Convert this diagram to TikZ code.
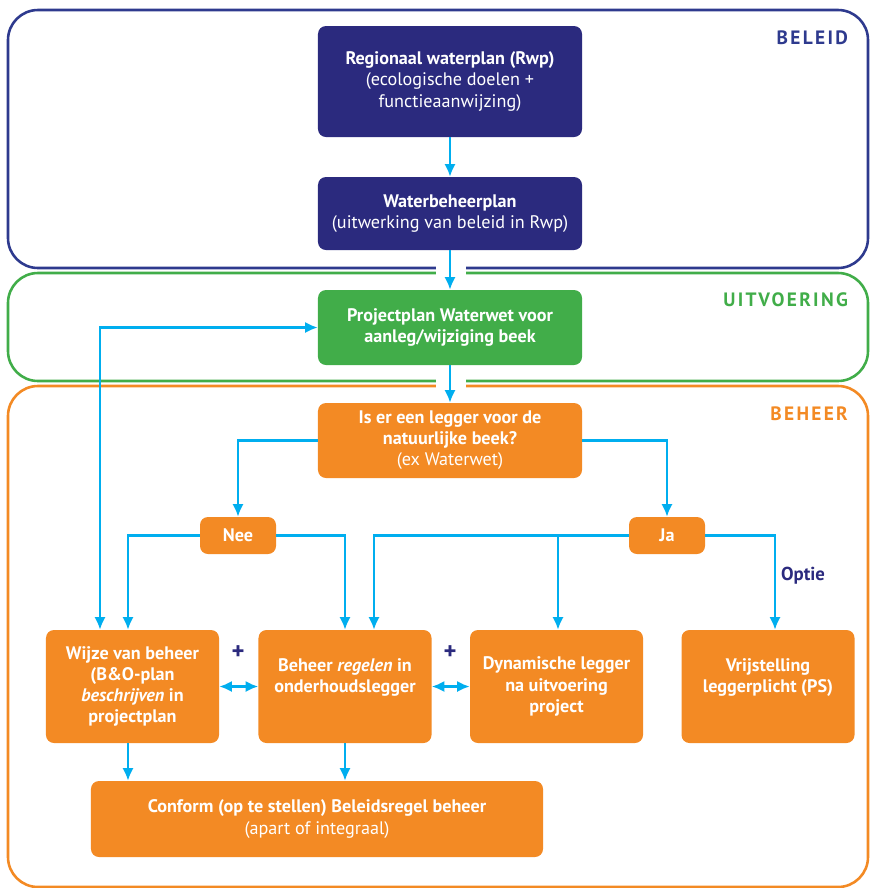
\documentclass[tikz,border=0pt]{standalone}
\usepackage{fontspec}
\setmainfont{PT Sans}
\usetikzlibrary{arrows.meta,calc}
\definecolor{navy}{HTML}{2B2A7E}
\definecolor{frameblue}{HTML}{2E3A8E}
\definecolor{leafgreen}{HTML}{41AD49}
\definecolor{frameorange}{HTML}{F38A24}
\definecolor{flowcyan}{HTML}{00AEEF}

\begin{document}
\begin{tikzpicture}[x=0.03cm, y=-0.03cm,
  frame/.style={line width=2.2pt, rounded corners=0.9cm},
  title/.style={anchor=east, font=\fontsize{16.5}{18}\selectfont\bfseries\addfontfeature{LetterSpace=12}},
  blok/.style={rounded corners=0.24cm, minimum width=7.92cm, align=center, text=white, inner sep=2pt, font=\fontsize{15.5}{18}\selectfont},
  keuze/.style={blok, fill=frameorange, minimum width=2.28cm, minimum height=1.11cm, font=\fontsize{15.5}{18}\selectfont\bfseries},
  stap/.style={blok, fill=frameorange, minimum width=5.19cm, minimum height=3.39cm, font=\fontsize{15.5}{18}\selectfont\bfseries},
  arr/.style={flowcyan, line width=2.4pt, -{Latex[length=3.8mm, width=3.4mm]}},
  arr2/.style={flowcyan, line width=2.4pt, {Latex[length=3.8mm, width=3.4mm]}-{Latex[length=3.8mm, width=3.4mm]}},
  teken/.style={text=navy, font=\fontsize{16}{18}\selectfont\bfseries}
]
\useasboundingbox (0,0) rectangle (870,888);

% lagen
\draw[frame, frameblue] (8,10) rectangle (868,268);
\draw[frame, leafgreen] (8,273) rectangle (868,381);
\draw[frame, frameorange] (8,386) rectangle (868,887);
\fill[white] (436,256) rectangle (466,287);
\fill[white] (436,369) rectangle (466,400);
\node[title, text=frameblue] (beleid) at (852,38) {BELEID};
\node[title, text=leafgreen] (uitv) at (852,300) {UITVOERING};
\node[title, text=frameorange] (beheer) at (852,414) {BEHEER};

% blokken
\node[blok, fill=navy, minimum height=3.33cm] (rwp) at (450,81.5) {\textbf{Regionaal waterplan (Rwp)}\\(ecologische doelen +\\functieaanwijzing)};
\node[blok, fill=navy, minimum height=2.19cm] (wbp) at (450,213.5) {\textbf{Waterbeheerplan}\\(uitwerking van beleid in Rwp)};
\node[blok, fill=leafgreen, minimum height=2.25cm] (proj) at (450,327.5) {\textbf{Projectplan Waterwet voor}\\\textbf{aanleg/wijziging beek}};
\node[blok, fill=frameorange, minimum height=2.25cm] (legger) at (450,440.5) {\textbf{Is er een legger voor de}\\\textbf{natuurlijke beek?}\\(ex Waterwet)};
\node[keuze] (nee) at (238,535.5) {Nee};
\node[keuze] (ja) at (667,535.5) {Ja};
\node[stap] (wijze) at (132.5,686.5) {Wijze van beheer\\(B\&O-plan\\\textit{beschrijven} in\\projectplan};
\node[stap] (regel) at (345,686.5) {Beheer \textit{regelen} in\\onderhoudslegger\\\mbox{}};
\node[stap] (dyn) at (556.5,686.5) {Dynamische legger\\na uitvoering\\project};
\node[stap] (vrij) at (768,686.5) {Vrijstelling\\leggerplicht (PS)\\\mbox{}};
\node[blok, fill=frameorange, minimum width=13.56cm, minimum height=2.28cm] (conf) at (317,819) {\textbf{Conform (op te stellen) Beleidsregel beheer}\\(apart of integraal)};

\node[teken] (optie) at (803,576) {Optie};
\node[teken, font=\fontsize{21}{18}\selectfont\bfseries] (plus1) at (238,653) {+};
\node[teken, font=\fontsize{21}{18}\selectfont\bfseries] (plus2) at (450,653) {+};

% pijlen
\draw[arr] (rwp) -- (wbp);
\draw[arr] (wbp) -- (proj);
\draw[arr] (proj) -- (legger);
\draw[arr] (legger.west) -| (nee.north);
\draw[arr] (legger.east) -| (ja.north);
\draw[arr] (nee.west) -| ([xshift=-0.135cm]wijze.north);
\draw[arr] (nee.east) -| (regel.north);
\draw[arr] (ja.west) -| ([xshift=0.87cm]regel.north);
\draw[arr] (ja.west) -| ([xshift=0.045cm]dyn.north);
\draw[arr] (ja.east) -| ([xshift=0.21cm]vrij.north);
\draw[arr2] (proj.west) -| ([xshift=-0.975cm]wijze.north);
\draw[arr2] (wijze) -- (regel);
\draw[arr2] (regel) -- (dyn);
\draw[arr] ([xshift=-0.135cm]wijze.south) -- ([xshift=-0.135cm]wijze.south |- conf.north);
\draw[arr] (regel.south) -- (regel.south |- conf.north);
\end{tikzpicture}
\end{document}
